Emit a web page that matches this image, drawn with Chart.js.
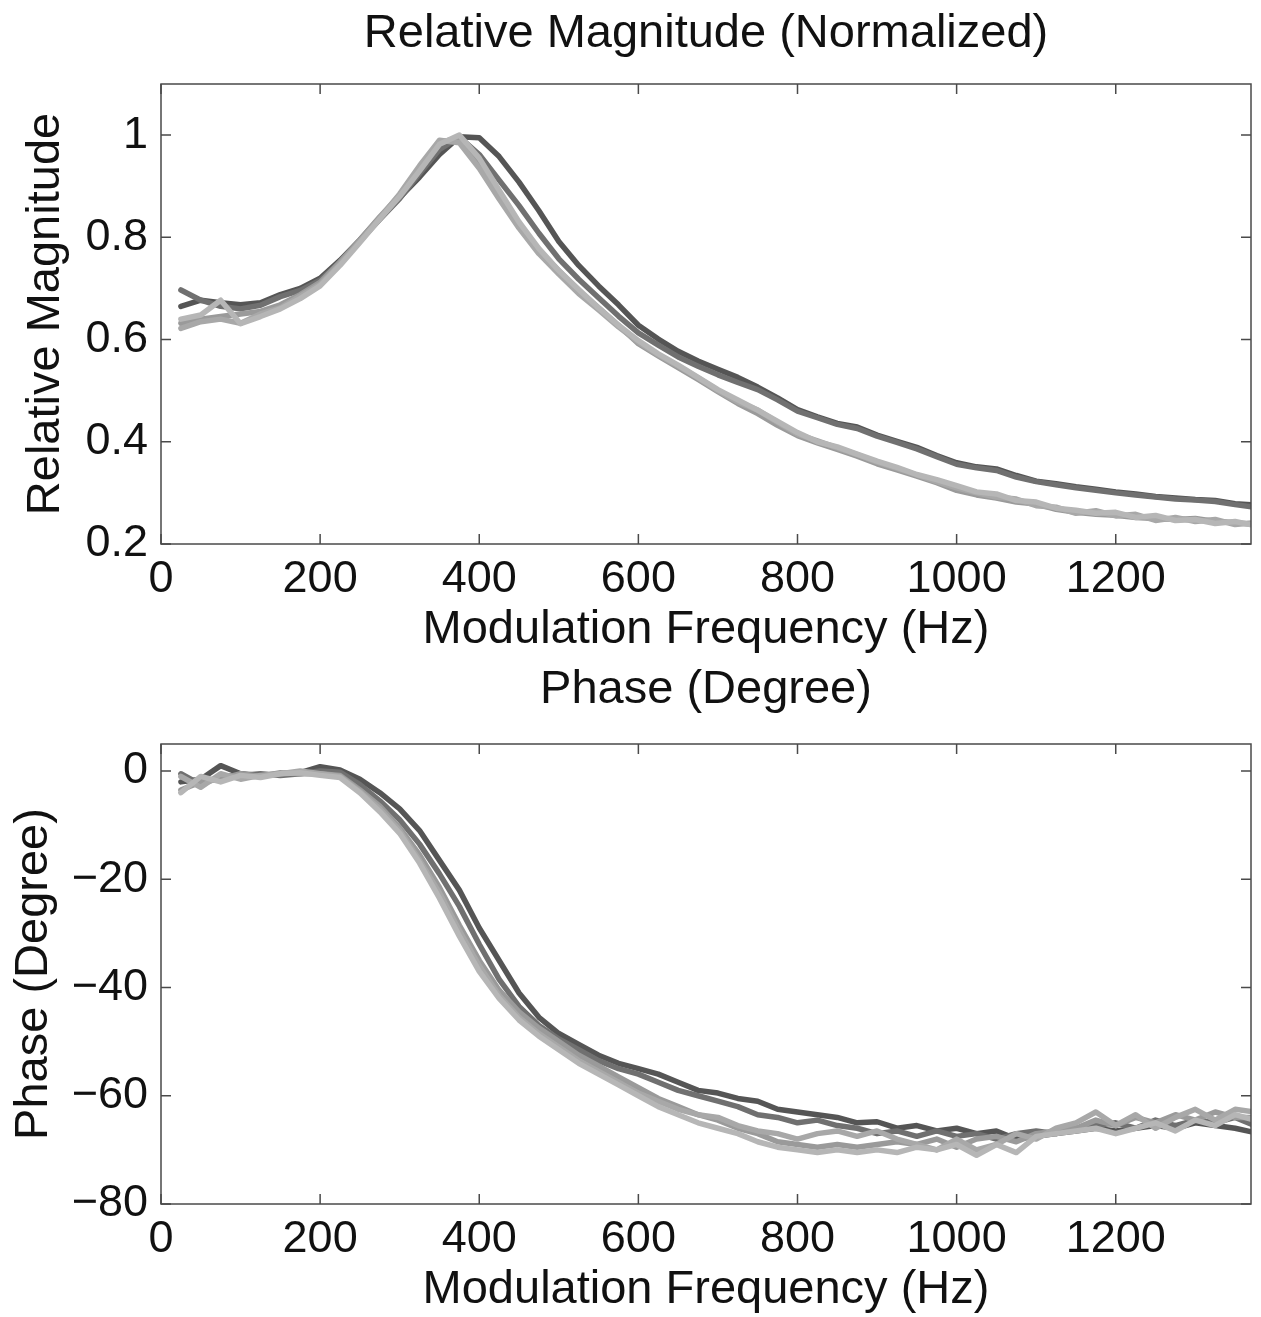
<!DOCTYPE html>
<html>
<head>
<meta charset="utf-8">
<title>Relative Magnitude and Phase</title>
<script src="https://cdn.jsdelivr.net/npm/chart.js@4.4.1/dist/chart.umd.min.js"></script>
<style>
  html, body { margin: 0; padding: 0; background: #fff; overflow: hidden; }
  #top, #bottom { position: absolute; left: 0; }
  #top { top: 0; }
  #bottom { top: 660px; }
</style>
</head>
<body>
<canvas id="top" width="1261" height="660"></canvas>
<canvas id="bottom" width="1261" height="660"></canvas>
<script>
// modulation frequency (Hz) of each sample
const FREQ = [
  25, 50, 75, 100, 125, 150, 175, 200, 225, 250, 275,
  300, 325, 350, 375, 400, 425, 450, 475, 500, 525, 550,
  575, 600, 625, 650, 675, 700, 725, 750, 775, 800, 825,
  850, 875, 900, 925, 950, 975, 1000, 1025, 1050, 1075, 1100,
  1125, 1150, 1175, 1200, 1225, 1250, 1275, 1300, 1325, 1350, 1375
];

// relative magnitude, one list per measurement
const MAG_A = [
  0.665, 0.677, 0.672, 0.668, 0.672, 0.688, 0.700, 0.720, 0.755, 0.795, 0.838,
  0.878, 0.918, 0.962, 0.997, 0.995, 0.958, 0.908, 0.852, 0.792, 0.745, 0.705,
  0.668, 0.628, 0.601, 0.577, 0.558, 0.542, 0.526, 0.507, 0.486, 0.463, 0.449,
  0.436, 0.429, 0.413, 0.401, 0.389, 0.373, 0.359, 0.351, 0.347, 0.334, 0.323,
  0.318, 0.312, 0.307, 0.302, 0.298, 0.293, 0.290, 0.287, 0.285, 0.279, 0.276
];
const MAG_B = [
  0.697, 0.677, 0.665, 0.660, 0.667, 0.684, 0.696, 0.716, 0.752, 0.793, 0.835,
  0.876, 0.925, 0.972, 0.996, 0.962, 0.912, 0.862, 0.808, 0.758, 0.718, 0.682,
  0.646, 0.613, 0.589, 0.566, 0.548, 0.531, 0.516, 0.502, 0.482, 0.460, 0.447,
  0.434, 0.426, 0.411, 0.399, 0.386, 0.371, 0.356, 0.349, 0.344, 0.331, 0.322,
  0.316, 0.310, 0.305, 0.300, 0.296, 0.292, 0.288, 0.286, 0.283, 0.277, 0.272
];
const MAG_C = [
  0.632, 0.640, 0.645, 0.650, 0.655, 0.668, 0.688, 0.712, 0.752, 0.795, 0.840,
  0.882, 0.935, 0.985, 0.995, 0.945, 0.885, 0.825, 0.775, 0.735, 0.695, 0.662,
  0.628, 0.592, 0.568, 0.545, 0.522, 0.498, 0.475, 0.455, 0.432, 0.412, 0.398,
  0.385, 0.372, 0.357, 0.345, 0.333, 0.320, 0.305, 0.296, 0.290, 0.282, 0.278,
  0.268, 0.262, 0.258, 0.256, 0.252, 0.250, 0.248, 0.250, 0.244, 0.242, 0.238
];
const MAG_D = [
  0.622, 0.635, 0.640, 0.632, 0.650, 0.662, 0.685, 0.708, 0.748, 0.792, 0.838,
  0.885, 0.940, 0.990, 0.985, 0.935, 0.875, 0.818, 0.768, 0.728, 0.690, 0.658,
  0.625, 0.595, 0.570, 0.548, 0.525, 0.500, 0.478, 0.462, 0.438, 0.415, 0.402,
  0.388, 0.375, 0.360, 0.348, 0.335, 0.322, 0.310, 0.300, 0.292, 0.288, 0.275,
  0.272, 0.260, 0.265, 0.255, 0.258, 0.246, 0.252, 0.244, 0.248, 0.238, 0.242
];
const MAG_E = [
  0.640, 0.648, 0.677, 0.631, 0.645, 0.660, 0.680, 0.705, 0.745, 0.790, 0.836,
  0.880, 0.930, 0.982, 1.000, 0.955, 0.892, 0.830, 0.778, 0.735, 0.698, 0.662,
  0.628, 0.598, 0.572, 0.550, 0.526, 0.502, 0.482, 0.462, 0.440, 0.418, 0.400,
  0.390, 0.376, 0.362, 0.350, 0.336, 0.326, 0.314, 0.302, 0.298, 0.285, 0.282,
  0.270, 0.266, 0.260, 0.262, 0.252, 0.256, 0.246, 0.248, 0.240, 0.244, 0.236
];

// phase in degrees, same measurements
const PH_A = [
  -2.0, -1.5, 1.0, -0.5, -0.8, -0.5, -0.3, 0.8, 0.2, -1.5, -4.0,
  -7.0, -11.0, -16.5, -22.0, -29.0, -35.0, -41.0, -45.5, -48.5, -50.5, -52.5,
  -54.0, -55.0, -56.0, -57.5, -59.0, -59.5, -60.5, -61.0, -62.5, -63.0, -63.5,
  -64.0, -65.0, -64.8, -66.0, -65.5, -66.5, -66.0, -67.0, -66.5, -68.0, -67.5,
  -67.0, -66.5, -66.0, -66.5, -66.0, -65.5, -66.0, -65.0, -65.5, -66.0, -66.8
];
const PH_B = [
  -0.5, -2.5, -1.0, -0.8, -0.5, -0.8, -0.5, 0.0, -0.2, -2.5, -5.5,
  -9.0, -13.5, -19.0, -25.0, -32.0, -38.5, -43.5, -47.0, -49.5, -51.5, -53.5,
  -55.0, -56.0, -57.5, -59.0, -60.0, -61.0, -62.0, -63.5, -64.0, -65.0, -64.5,
  -65.5, -66.0, -67.0, -66.5, -67.5, -66.5, -67.5, -67.0, -68.0, -67.0, -66.5,
  -67.0, -66.0, -65.5, -65.0, -66.0, -64.5, -65.5, -64.5, -65.0, -64.0, -65.5
];
const PH_C = [
  -3.5, -2.0, -1.5, -0.5, -1.0, -0.3, -0.5, -0.5, -0.8, -3.5, -6.5,
  -10.5, -15.5, -21.5, -28.5, -35.0, -40.5, -44.5, -47.5, -50.0, -52.5, -54.5,
  -56.5, -58.5, -60.5, -62.0, -63.5, -64.5, -66.0, -67.0, -68.5, -69.0, -69.5,
  -69.0, -69.5, -69.0, -68.5, -69.0, -68.0, -69.5, -68.0, -67.5, -68.5, -67.0,
  -66.5, -66.0, -64.5, -65.5, -64.0, -65.0, -63.5, -64.5, -63.0, -64.0, -64.0
];
const PH_D = [
  -1.0, -3.0, -0.5, -1.5, -0.8, -0.5, 0.0, -0.5, -1.0, -3.8, -7.0,
  -11.0, -16.5, -22.5, -29.5, -36.0, -41.5, -45.5, -48.5, -51.0, -53.5, -55.5,
  -57.5, -59.5, -61.0, -62.5, -63.5, -64.0, -65.5, -66.5, -67.0, -68.0, -67.0,
  -66.5, -67.5, -66.5, -68.0, -69.0, -70.0, -68.0, -70.0, -69.0, -67.0, -68.0,
  -66.0, -65.0, -63.0, -65.5, -63.5, -66.0, -64.0, -62.5, -64.5, -62.5, -63.0
];
const PH_E = [
  -4.0, -1.0, -2.0, -0.8, -1.2, -0.5, -0.3, -0.8, -1.2, -4.0, -7.5,
  -11.5, -17.0, -23.5, -30.5, -37.0, -42.0, -46.0, -49.0, -51.5, -54.0, -56.0,
  -58.0, -60.0, -62.0, -63.5, -65.0, -66.0, -67.0, -68.5, -69.5, -70.0, -70.5,
  -70.0, -70.5, -70.0, -70.5, -69.5, -70.0, -69.0, -71.0, -69.0, -70.5, -67.5,
  -67.0, -66.5, -66.0, -67.0, -66.0, -65.0, -66.5, -64.5, -65.5, -63.5, -64.5
];

// tick labels
const X_TICKS = [0, 200, 400, 600, 800, 1000, 1200];
const MAG_TICKS = [0.2, 0.4, 0.6, 0.8, 1];
const PH_TICKS = [-80, -60, -40, -20, 0];

const COLORS = ['#555555', '#707070', '#9a9a9a', '#a8a8a8', '#b6b6b6'];
const FONT = '"Liberation Sans", Arial, Helvetica, sans-serif';

function toPoints(ys) {
  return FREQ.map((f, i) => ({ x: f, y: ys[i] }));
}

// MATLAB style box with inward ticks on all four sides
const boxPlugin = {
  id: 'box',
  afterDatasetsDraw(chart) {
    const { ctx, chartArea: a, scales } = chart;
    const len = 10;
    ctx.save();
    ctx.strokeStyle = '#4a4a4a';
    ctx.lineWidth = 1.5;
    ctx.strokeRect(a.left, a.top, a.right - a.left, a.bottom - a.top);
    ctx.beginPath();
    scales.x.ticks.forEach(t => {
      const px = scales.x.getPixelForValue(t.value);
      ctx.moveTo(px, a.bottom); ctx.lineTo(px, a.bottom - len);
      ctx.moveTo(px, a.top); ctx.lineTo(px, a.top + len);
    });
    scales.y.ticks.forEach(t => {
      const py = scales.y.getPixelForValue(t.value);
      ctx.moveTo(a.left, py); ctx.lineTo(a.left + len, py);
      ctx.moveTo(a.right, py); ctx.lineTo(a.right - len, py);
    });
    ctx.stroke();
    ctx.restore();
  }
};

function makeChart(id, title, titlePad, yLabel, yTitlePad, series, yMin, yMax, yTicks) {
  const datasets = series.map((s, i) => ({
    data: toPoints(s),
    borderColor: COLORS[i],
    borderWidth: 5.5,
    pointRadius: 0,
    tension: 0,
    borderJoinStyle: 'round',
    borderCapStyle: 'round',
    clip: 0,
    order: series.length - i
  }));

  return new Chart(document.getElementById(id), {
    type: 'line',
    data: { datasets },
    options: {
      responsive: false,
      animation: false,
      layout: { padding: { left: 0, right: 10, top: 0, bottom: 2 } },
      plugins: {
        legend: { display: false },
        tooltip: { enabled: false },
        title: {
          display: true,
          text: title,
          fullSize: false,
          color: '#111',
          font: { family: FONT, size: 47, weight: 'normal' },
          padding: titlePad
        }
      },
      scales: {
        x: {
          type: 'linear',
          min: 0,
          max: 1370,
          grid: { display: false, drawTicks: false },
          border: { display: false },
          afterBuildTicks: scale => { scale.ticks = X_TICKS.map(v => ({ value: v })); },
          afterFit: scale => { scale.height = 114; },
          ticks: {
            autoSkip: false,
            maxRotation: 0,
            padding: 9,
            color: '#111',
            font: { family: FONT, size: 45 },
            callback: v => String(v)
          },
          title: {
            display: true,
            text: 'Modulation Frequency (Hz)',
            color: '#111',
            font: { family: FONT, size: 47 },
            padding: { top: 0, bottom: 0 }
          }
        },
        y: {
          type: 'linear',
          min: yMin,
          max: yMax,
          grid: { display: false, drawTicks: false },
          border: { display: false },
          afterBuildTicks: scale => { scale.ticks = yTicks.map(v => ({ value: v })); },
          afterFit: scale => { scale.width = 161; },
          ticks: {
            autoSkip: false,
            padding: 13,
            color: '#111',
            font: { family: FONT, size: 45 },
            callback: v => String(v).replace('-', '\u2212')
          },
          title: {
            display: true,
            text: yLabel,
            color: '#111',
            font: { family: FONT, size: 47 },
            padding: { top: yTitlePad, bottom: 0 }
          }
        }
      }
    },
    plugins: [boxPlugin]
  });
}

makeChart('top', 'Relative Magnitude (Normalized)', { top: 6, bottom: 21.6 },
  'Relative Magnitude', 17.8,
  [MAG_A, MAG_B, MAG_C, MAG_D, MAG_E], 0.2, 1.1, MAG_TICKS);

makeChart('bottom', 'Phase (Degree)', { top: 1.5, bottom: 26.1 },
  'Phase (Degree)', 5.8,
  [PH_A, PH_B, PH_C, PH_D, PH_E], -80, 5, PH_TICKS);
</script>
</body>
</html>
